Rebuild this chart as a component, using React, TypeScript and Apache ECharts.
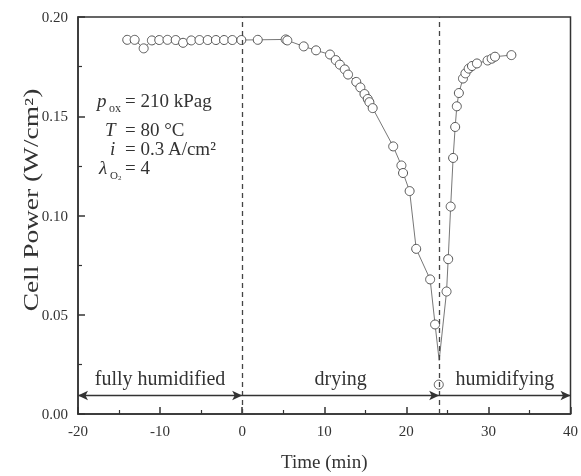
import React, { useEffect, useRef } from "react";
import * as echarts from "echarts";

const FONT = '"Liberation Serif", "Times New Roman", serif';

// fully humidified period (min, W/cm²)
const humidifiedTime = [-14, -13.1, -12, -11, -10.1, -9.1, -8.1, -7.2, -6.2, -5.2, -4.2, -3.2, -2.2, -1.2, -0.1];
const humidifiedPower = [0.1885, 0.1885, 0.1842, 0.1882, 0.1884, 0.1885, 0.1884, 0.187, 0.1882, 0.1884, 0.1884, 0.1884, 0.1884, 0.1884, 0.1884];

// drying period
const dryingTime = [1.9, 5.3, 5.5, 7.5, 9.0, 10.7, 11.4, 11.9, 12.5, 12.9, 13.9, 14.4, 14.9, 15.3, 15.5, 15.9, 18.4, 19.4, 19.6, 20.4, 21.2, 22.9, 23.5];
const dryingPower = [0.1885, 0.1887, 0.1882, 0.1852, 0.1832, 0.1811, 0.1783, 0.176, 0.1736, 0.171, 0.1673, 0.1645, 0.1612, 0.1587, 0.1571, 0.1541, 0.1348, 0.1252, 0.1214, 0.1123, 0.0832, 0.0678, 0.0451];

// humidifying period
const humidifyingTime = [24.9, 25.1, 25.4, 25.7, 25.95, 26.15, 26.4, 26.9, 27.2, 27.6, 28.0, 28.6, 29.9, 30.4, 30.8, 32.8];
const humidifyingPower = [0.0617, 0.078, 0.1045, 0.129, 0.1446, 0.155, 0.1617, 0.169, 0.1716, 0.174, 0.1753, 0.1766, 0.1781, 0.179, 0.18, 0.1808];

// isolated measured point at the switch
const switchTime = [23.95];
const switchPower = [0.0148];

// lowest vertex of the drawn curve
const troughTime = [24.0];
const troughPower = [0.027];

// phase boundaries and arrow level
const phaseBounds = [-20, 0, 24, 40];
const phaseNames = ["fully humidified", "drying", "humidifying"];
const arrowLevel = 0.0093;

const xTicks = { min: -20, max: 40, interval: 10 };
const yTicks = { min: 0, max: 0.2, interval: 0.05 };

const zip = (a: number[], b: number[]) => a.map((v, i) => [v, b[i]]);

export default function App() {
  const ref = useRef<HTMLDivElement>(null);
  useEffect(() => {
    if (!ref.current) return;
    const chart = echarts.init(ref.current, null, { renderer: "svg" });
    const curve = [
      ...zip(humidifiedTime, humidifiedPower),
      ...zip(dryingTime, dryingPower),
      ...zip(troughTime, troughPower),
      ...zip(humidifyingTime, humidifyingPower),
    ];
    const points = [
      ...zip(humidifiedTime, humidifiedPower),
      ...zip(dryingTime, dryingPower),
      ...zip(switchTime, switchPower),
      ...zip(humidifyingTime, humidifyingPower),
    ];
    const axisColor = "#333";
    const dashed = { type: [5, 4] as any, color: "#444", width: 1.3 };
    const arrowStyle = { type: "solid" as any, color: "#333", width: 1.4 };
    const txt = (text: string, x: number, y: number, extra: any = {}) => ({
      type: "text",
      x,
      y,
      silent: true,
      style: {
        text,
        fontFamily: FONT,
        fontSize: 20,
        fill: "#333",
        align: "left",
        verticalAlign: "middle",
        textAlign: "left",
        textVerticalAlign: "middle",
        ...extra,
      },
    });
    chart.setOption({
      animation: false,
      grid: { left: 78, right: 6, top: 17, bottom: 57, show: true, borderColor: axisColor, borderWidth: 1.5 },
      xAxis: {
        type: "value",
        ...xTicks,
        axisLine: { show: true, onZero: false, lineStyle: { color: axisColor, width: 1.5 } },
        axisTick: { show: true, inside: true, length: 7, lineStyle: { color: axisColor, width: 1.5 } },
        minorTick: { show: true, splitNumber: 2, length: 4, lineStyle: { color: axisColor, width: 1.2 } },
        splitLine: { show: false },
        axisLabel: { fontFamily: FONT, fontSize: 15, color: "#333", margin: 9 },
        name: "Time (min)",
        nameLocation: "middle",
        nameGap: 38,
        nameTextStyle: { fontFamily: FONT, fontSize: 19, color: "#333" },
      },
      yAxis: {
        type: "value",
        ...yTicks,
        axisLine: { show: true, onZero: false, lineStyle: { color: axisColor, width: 1.5 } },
        axisTick: { show: true, inside: true, length: 7, lineStyle: { color: axisColor, width: 1.5 } },
        minorTick: { show: true, splitNumber: 2, length: 4, lineStyle: { color: axisColor, width: 1.2 } },
        splitLine: { show: false },
        axisLabel: { fontFamily: FONT, fontSize: 15, color: "#333", margin: 10, formatter: (v: number) => v.toFixed(2) },
      },
      series: [
        {
          type: "line",
          data: curve,
          symbol: "none",
          showSymbol: false,
          silent: true,
          lineStyle: { color: "#777", width: 1 },
          z: 2,
          markLine: {
            silent: true,
            animation: false,
            symbol: ["none", "none"],
            symbolSize: [7, 10],
            label: { show: false },
            data: [
              { xAxis: phaseBounds[1], lineStyle: dashed },
              { xAxis: phaseBounds[2], lineStyle: dashed },
              [
                { coord: [phaseBounds[0], arrowLevel], symbol: "arrow", lineStyle: arrowStyle },
                { coord: [phaseBounds[1], arrowLevel], symbol: "arrow" },
              ],
              [
                { coord: [phaseBounds[1], arrowLevel], symbol: "none", lineStyle: arrowStyle },
                { coord: [phaseBounds[2], arrowLevel], symbol: "arrow" },
              ],
              [
                { coord: [phaseBounds[2], arrowLevel], symbol: "none", lineStyle: arrowStyle },
                { coord: [phaseBounds[3], arrowLevel], symbol: "arrow" },
              ],
            ],
          },
        },
        {
          type: "scatter",
          data: points,
          symbol: "circle",
          symbolSize: 9,
          silent: true,
          itemStyle: { color: "#fff", borderColor: "#555", borderWidth: 1, opacity: 1 },
          z: 3,
        },
      ],
    });

    const px = (t: number, v: number) => chart.convertToPixel({ gridIndex: 0 }, [t, v]) as number[];
    const labelY = px(0, arrowLevel)[1] - 18;
    const regionTexts = phaseNames.map((name, i) => {
      const cx = (px(phaseBounds[i], 0)[0] + px(phaseBounds[i + 1], 0)[0]) / 2;
      return txt(name, cx, labelY, { align: "center", textAlign: "center" });
    });
    const p = { fontSize: 19, lineHeight: 17 };
    const italic = { ...p, fontStyle: "italic" };
    chart.setOption({
      graphic: [
        ...regionTexts,
        // parameters
        txt("p", 97, 100, italic),
        txt("ox", 109, 108, { fontSize: 12, lineHeight: 10 }),
        txt("= 210 kPag", 125, 100, p),
        txt("T", 105, 129, italic),
        txt("= 80 °C", 125, 129, p),
        txt("i", 110, 148, italic),
        txt("= 0.3 A/cm²", 125, 148, p),
        txt("λ", 99, 167, italic),
        txt("O", 110, 175, { fontSize: 11, lineHeight: 9 }),
        txt("2", 118, 178, { fontSize: 7, lineHeight: 6 }),
        txt("= 4", 125, 167, p),
        // y axis title
        {
          type: "text",
          x: 31,
          y: 200,
          rotation: Math.PI / 2,
          scaleX: 1.37,
          silent: true,
          style: {
            text: "Cell Power (W/cm²)",
            fontFamily: FONT,
            fontSize: 20,
            fill: "#333",
            align: "center",
            verticalAlign: "middle",
            textAlign: "center",
            textVerticalAlign: "middle",
          },
        },
      ],
    });
    return () => chart.dispose();
  }, []);
  return <div ref={ref} style={{ position: "fixed", left: 0, top: 0, width: 581, height: 476 }} />;
}
